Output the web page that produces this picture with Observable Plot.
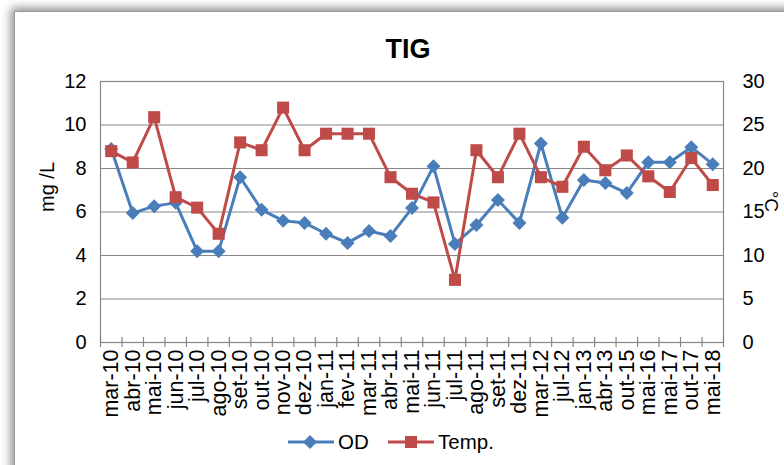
<!DOCTYPE html>
<html>
<head>
<meta charset="utf-8">
<script src="https://cdn.jsdelivr.net/npm/d3@7"></script>
<script src="https://cdn.jsdelivr.net/npm/@observablehq/plot@0.6"></script>
<style>
  html, body { margin: 0; padding: 0; background: #ffffff; overflow: hidden; width: 784px; height: 465px; }
  body { position: relative; font-family: "Liberation Sans", Arial, sans-serif; }
  #frame { position: absolute; left: 14px; top: 11px; width: 820px; height: 500px; background: #fff;
           border: 1px solid #9a9a9a; box-shadow: 0 0 9px 3px rgba(0,0,0,0.45); }
  #title { position: absolute; left: 0; top: 34px; width: 816px; text-align: center;
           font: bold 27px/30px "Liberation Sans", Arial, sans-serif; color: #000; }
  #chart { position: absolute; left: 0; top: 0; }
  #legend { position: absolute; left: 0; top: 427px; width: 784px; height: 30px; }
  .item { position: absolute; top: 0; height: 30px; display: flex; align-items: center;
          font: 20.5px "Liberation Sans", Arial, sans-serif; color: #000; }
  .item svg { margin-right: 4px; }
</style>
</head>
<body>
<div id="frame"></div>
<div id="chart"></div>
<div id="title">TIG</div>
<div id="legend"></div>
<script>
const categories = ["mar-10","abr-10","mai-10","jun-10","jul-10","ago-10","set-10","out-10","nov-10","dez-10",
  "jan-11","fev-11","mar-11","abr-11","mai-11","jun-11","jul-11","ago-11","set-11","dez-11",
  "mar-12","jul-12","jan-13","abr-13","out-15","mai-16","mai-17","out-17","mai-18"];
const odValues = [8.9, 5.95, 6.27, 6.42, 4.2, 4.2, 7.6, 6.1, 5.6, 5.5,
  5.0, 4.58, 5.13, 4.9, 6.18, 8.1, 4.53, 5.4, 6.55, 5.5,
  9.15, 5.73, 7.47, 7.33, 6.87, 8.29, 8.29, 8.98, 8.2];
const tempValues = [22.0, 20.7, 25.9, 16.7, 15.5, 12.5, 23.0, 22.1, 27.0, 22.1,
  24.0, 24.0, 24.0, 19.0, 17.1, 16.1, 7.2, 22.1, 19.0, 24.0,
  19.0, 17.9, 22.5, 19.8, 21.5, 19.1, 17.3, 21.2, 18.1];
const leftTicks = [0, 2, 4, 6, 8, 10, 12];
const rightTicks = [0, 5, 10, 15, 20, 25, 30];

const blue = "#4A7EBB";
const red = "#BE4B48";
const grid = "#878787";
const ratio = rightTicks[rightTicks.length - 1] / leftTicks[leftTicks.length - 1];

const data = categories.map((c, i) => ({i, cat: c, od: odValues[i], temp: tempValues[i]}));
const boundaries = d3.range(categories.length + 1).map(i => i - 0.5);

const diamond = {
  draw(ctx, size) {
    const r = Math.sqrt(size / Math.PI);
    ctx.moveTo(0, -r); ctx.lineTo(r, 0); ctx.lineTo(0, r); ctx.lineTo(-r, 0); ctx.closePath();
  }
};

const font = "'Liberation Sans', Arial, sans-serif";

const chart = Plot.plot({
  width: 784,
  height: 422,
  marginTop: 81,
  marginBottom: 80,
  marginLeft: 100,
  marginRight: 61,
  style: {fontFamily: font, fontSize: "20px", color: "#000", background: "transparent", overflow: "visible"},
  x: {domain: [-0.5, categories.length - 0.5]},
  y: {domain: [0, 12]},
  marks: [
    Plot.ruleY(leftTicks.slice(1, -1), {stroke: grid, strokeWidth: 1.2}),
    Plot.frame({stroke: grid, strokeWidth: 1.2}),
    Plot.ruleX(boundaries, {x: d => d, stroke: grid, strokeWidth: 1.2, insetTop: 256, insetBottom: -5}),
    Plot.axisY({ticks: leftTicks, tickSize: 0, tickPadding: 14, label: null, fontSize: 20}),
    Plot.axisY({anchor: "right", ticks: leftTicks, tickFormat: d => String(d * ratio), tickSize: 0, tickPadding: 19, label: null, fontSize: 20}),
    Plot.axisX({ticks: d3.range(categories.length), tickFormat: i => categories[i], tickRotate: -90,
      tickSize: 0, tickPadding: 7, label: null, fontSize: 21.5}),
    Plot.text(["mg /L"], {frameAnchor: "left", dx: -53, rotate: -90, fontSize: 20, fill: "#000"}),
    Plot.text(["°C"], {frameAnchor: "right", dx: 48, rotate: 90, fontSize: 19, fill: "#000"}),
    Plot.line(data, {x: "i", y: "od", stroke: blue, strokeWidth: 3}),
    Plot.line(data, {x: "i", y: d => d.temp / ratio, stroke: red, strokeWidth: 3}),
    Plot.dot(data, {x: "i", y: "od", symbol: diamond, r: 7, fill: blue, stroke: "none"}),
    Plot.dot(data, {x: "i", y: d => d.temp / ratio, symbol: "square", r: 6.8, fill: red, stroke: "none"})
  ]
});
document.getElementById("chart").appendChild(chart);

// Legend
const legend = document.getElementById("legend");
function legendItem(left, label, color, kind) {
  const div = document.createElement("div");
  div.className = "item";
  div.style.left = left + "px";
  const s = d3.create("svg").attr("width", 46).attr("height", 16);
  s.append("line").attr("x1", 0).attr("x2", 46).attr("y1", 8).attr("y2", 8)
    .attr("stroke", color).attr("stroke-width", 3);
  if (kind === "diamond") {
    s.append("path").attr("d", "M22,1L29,8L22,15L15,8Z").attr("fill", color);
  } else {
    s.append("rect").attr("x", 17).attr("y", 2).attr("width", 12).attr("height", 12).attr("fill", color);
  }
  div.appendChild(s.node());
  const t = document.createElement("span");
  t.textContent = label;
  div.appendChild(t);
  legend.appendChild(div);
}
legendItem(288, "OD", blue, "diamond");
legendItem(388, "Temp.", red, "square");
</script>
</body>
</html>
